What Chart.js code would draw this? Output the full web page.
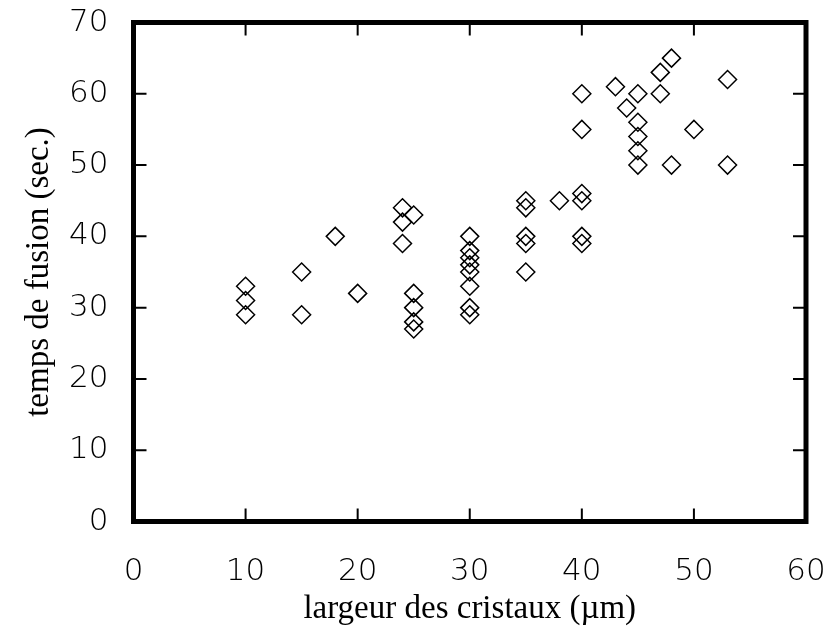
<!DOCTYPE html>
<html>
<head>
<meta charset="utf-8">
<script src="https://cdn.jsdelivr.net/npm/chart.js@4.4.0/dist/chart.umd.min.js"></script>
<style>
html,body{margin:0;padding:0;background:#fff;}
canvas{display:block;}
</style>
</head>
<body>
<canvas id="c" width="830" height="634"></canvas>
<script>
// crystal width (µm)
const largeur = [
  10, 10, 10,
  15, 15,
  18,
  20,
  24, 24, 24,
  25, 25, 25, 25, 25,
  30, 30, 30, 30, 30, 30, 30, 30,
  35, 35, 35, 35, 35,
  38,
  40, 40, 40, 40, 40, 40,
  43,
  44,
  45, 45, 45, 45, 45,
  47, 47,
  48, 48,
  50,
  53, 53
];
// melting time (sec.)
const temps = [
  33, 31, 29,
  35, 29,
  40,
  32,
  44, 42, 39,
  43, 32, 30, 28, 27,
  40, 38, 37, 36, 35, 33, 30, 29,
  45, 44, 40, 39, 35,
  45,
  60, 55, 46, 45, 40, 39,
  61,
  58,
  60, 56, 54, 52, 50,
  63, 60,
  65, 50,
  55,
  62, 50
];
const xTicks = [0, 10, 20, 30, 40, 50, 60];
const yTicks = [0, 10, 20, 30, 40, 50, 60, 70];
const xTitle = 'largeur des cristaux (µm)';
const yTitle = 'temps de fusion (sec.)';

const points = largeur.map((x, i) => ({x: x, y: temps[i]}));

const framePlugin = {
  id: 'frame',
  beforeDatasetsDraw(chart) {
    const {ctx, chartArea: a, scales} = chart;
    ctx.save();
    ctx.strokeStyle = '#000';
    ctx.lineWidth = 2;
    const tl = 13;
    xTicks.slice(1, -1).forEach(v => {
      const px = scales.x.getPixelForValue(v);
      ctx.beginPath();
      ctx.moveTo(px, a.bottom); ctx.lineTo(px, a.bottom - tl);
      ctx.moveTo(px, a.top); ctx.lineTo(px, a.top + tl);
      ctx.stroke();
    });
    yTicks.slice(1, -1).forEach(v => {
      const py = scales.y.getPixelForValue(v);
      ctx.beginPath();
      ctx.moveTo(a.left, py); ctx.lineTo(a.left + tl, py);
      ctx.moveTo(a.right, py); ctx.lineTo(a.right - tl, py);
      ctx.stroke();
    });
    ctx.lineWidth = 5;
    ctx.strokeRect(a.left, a.top, a.right - a.left, a.bottom - a.top);
    ctx.restore();
  }
};

const tickFont = {family: '"DejaVu Sans"', size: 31, weight: 200};
const titleFont = {family: '"Liberation Serif"', size: 33};

new Chart(document.getElementById('c'), {
  type: 'scatter',
  data: {
    datasets: [{
      data: points,
      pointStyle: 'rectRot',
      pointRadius: 9,
      pointHoverRadius: 9,
      borderWidth: 1.5,
      borderColor: '#000',
      backgroundColor: 'rgba(0,0,0,0)'
    }]
  },
  options: {
    responsive: false,
    animation: false,
    layout: {padding: {top: 22.5, right: 24, left: 0, bottom: 0}},
    plugins: {legend: {display: false}, tooltip: {enabled: false}},
    scales: {
      x: {
        type: 'linear',
        min: 0, max: 60,
        afterBuildTicks: s => { s.ticks = xTicks.map(v => ({value: v})); },
        afterFit: s => { s.height = 112.5; s.paddingLeft = 0; s.paddingRight = 0; },
        grid: {display: false, drawTicks: false},
        border: {display: false},
        ticks: {color: '#000', font: tickFont, padding: 32, maxRotation: 0},
        title: {display: true, text: xTitle, color: '#000', font: titleFont, padding: {top: 0, bottom: 5}}
      },
      y: {
        type: 'linear',
        min: 0, max: 70,
        afterBuildTicks: s => { s.ticks = yTicks.map(v => ({value: v})); },
        afterFit: s => { s.width = 133.5; s.paddingTop = 0; s.paddingBottom = 0; },
        grid: {display: false, drawTicks: false},
        border: {display: false},
        ticks: {color: '#000', font: tickFont, padding: 25},
        title: {display: true, text: yTitle, color: '#000', font: titleFont, padding: {top: 20, bottom: 0}}
      }
    }
  },
  plugins: [framePlugin]
});
</script>
</body>
</html>
